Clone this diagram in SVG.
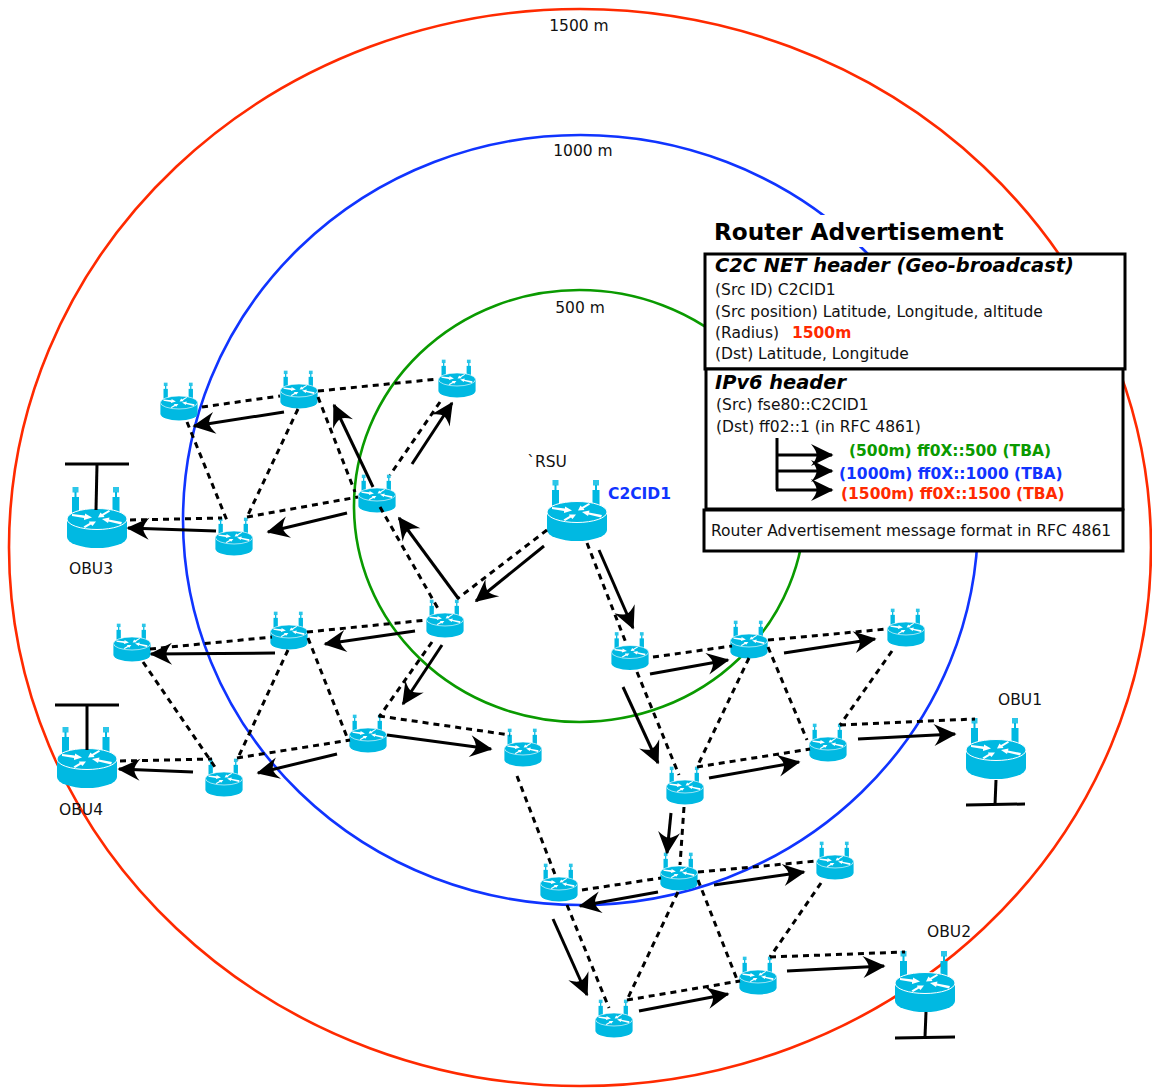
<svg xmlns="http://www.w3.org/2000/svg" xmlns:xlink="http://www.w3.org/1999/xlink" width="1152" height="1091" viewBox="0 0 1152 1091">
<style>
text{font-family:"DejaVu Sans",sans-serif;font-size:15.5px;fill:#111}
.b{font-weight:bold}
.bi{font-weight:bold;font-style:oblique}
.circle{fill:none;stroke-width:2.6}
.box{fill:#fff;stroke:#000;stroke-width:3}
.d line{stroke:#000;stroke-width:3;stroke-dasharray:6 5}
.a line{stroke:#000;stroke-width:3;marker-end:url(#ah)}
.t line{stroke:#000;stroke-width:3}
</style>
<defs>
<marker id="ah" markerUnits="userSpaceOnUse" markerWidth="28" markerHeight="28" viewBox="-4 -14 28 28" refX="19" refY="0" orient="auto" overflow="visible">
<path d="M20.500,0 L-2,-11 Q4,-3.500 3.500,0 Q4,3.500 -2,11 Z" fill="#000"/>
</marker>
<g id="router">
<rect x="-24.500" y="-32" width="6" height="5.500" fill="#2cc6e8"/>
<rect x="-22.500" y="-27" width="2" height="6" fill="#00b9e2"/>
<rect x="-25" y="-22" width="7" height="16" fill="#00b9e2"/>
<rect x="16" y="-32" width="6" height="5.500" fill="#2cc6e8"/>
<rect x="18" y="-27" width="2" height="6" fill="#00b9e2"/>
<rect x="15.500" y="-22" width="7" height="16" fill="#00b9e2"/>
<path d="M-30,0 V18 A30,11 0 0 0 30,18 V0 Z" fill="#00b9e2"/>
<ellipse cx="0" cy="0" rx="30" ry="10.500" fill="#00b9e2" stroke="#fff" stroke-width="1"/>
<path d="M-25,-5 L-12,-3.500 L-12,-5.500 L-5,-1.500 L-13,1 L-13,-1 L-25,-3 Z" fill="#fff"/>
<path d="M12,-9 L5,-5 L3.500,-6.500 L1,-1.500 L7.500,-2 L6.500,-3.500 L13,-7.500 Z" fill="#fff"/>
<path d="M25,3 L12,0.500 L12.500,-1.500 L5,0 L11,4 L11.500,2.500 L24,5.500 Z" fill="#fff"/>
<path d="M-12,9 L-6,5.500 L-4.500,7 L-1,2.500 L-8,2.500 L-7.500,4 L-13.500,7.500 Z" fill="#fff"/>
</g>
</defs>

<g id="ranges">
<ellipse class="circle" cx="580" cy="547.500" rx="571" ry="538.500" stroke="#ff2a00"/>
<ellipse class="circle" cx="580.500" cy="520" rx="397.500" ry="385" stroke="#1034ff"/>
<ellipse class="circle" cx="579.500" cy="506" rx="225.500" ry="216" stroke="#0a9a00"/>
</g>

<g id="rsu"><use xlink:href="#router" href="#router" transform="translate(577,512)"/></g>
<g id="obu3"><use href="#router" transform="translate(97,519)"/></g>
<g id="obu4"><use href="#router" transform="translate(87,759)"/></g>
<g id="obu1"><use href="#router" transform="translate(996,750)"/></g>
<g id="obu2"><use href="#router" transform="translate(925,983)"/></g>
<g id="n1"><use href="#router" transform="translate(179,402.500) scale(.62)"/></g>
<g id="n2"><use href="#router" transform="translate(299,390.500) scale(.62)"/></g>
<g id="n3"><use href="#router" transform="translate(457,379.500) scale(.62)"/></g>
<g id="n4"><use href="#router" transform="translate(377,494.500) scale(.62)"/></g>
<g id="n5"><use href="#router" transform="translate(234,537.500) scale(.62)"/></g>
<g id="n6"><use href="#router" transform="translate(445,619.500) scale(.62)"/></g>
<g id="n7"><use href="#router" transform="translate(289,631.500) scale(.62)"/></g>
<g id="n8"><use href="#router" transform="translate(132,643.500) scale(.62)"/></g>
<g id="n9"><use href="#router" transform="translate(368,734.500) scale(.62)"/></g>
<g id="n10"><use href="#router" transform="translate(224,778.500) scale(.62)"/></g>
<g id="n12"><use href="#router" transform="translate(523,748.500) scale(.62)"/></g>
<g id="n13"><use href="#router" transform="translate(630,652) scale(.62)"/></g>
<g id="n14"><use href="#router" transform="translate(749,640.500) scale(.62)"/></g>
<g id="n15"><use href="#router" transform="translate(906,628.500) scale(.62)"/></g>
<g id="n16"><use href="#router" transform="translate(828,743.500) scale(.62)"/></g>
<g id="n17"><use href="#router" transform="translate(685,786.500) scale(.62)"/></g>
<g id="n18"><use href="#router" transform="translate(679,872.500) scale(.62)"/></g>
<g id="n19"><use href="#router" transform="translate(835,861.500) scale(.62)"/></g>
<g id="n20"><use href="#router" transform="translate(559,883.500) scale(.62)"/></g>
<g id="n21"><use href="#router" transform="translate(758,976.500) scale(.62)"/></g>
<g id="n22"><use href="#router" transform="translate(614,1019.500) scale(.62)"/></g>

<g id="connectors">
<g class="t">
<line x1="65" y1="464" x2="129" y2="464"/><line x1="97" y1="464" x2="96" y2="510"/>
<line x1="55" y1="705" x2="119" y2="705"/><line x1="87" y1="705" x2="87" y2="750"/>
<line x1="996" y1="780" x2="995" y2="805"/><line x1="966" y1="805" x2="1025" y2="804"/>
<line x1="926" y1="1012" x2="925" y2="1037"/><line x1="895" y1="1038" x2="955" y2="1037"/>
</g>
<g class="d">
<line x1="202" y1="407" x2="280" y2="396"/>
<line x1="318" y1="391" x2="438" y2="379"/>
<line x1="187" y1="422" x2="228" y2="523"/>
<line x1="298" y1="409" x2="247" y2="517"/>
<line x1="318" y1="397" x2="355" y2="492"/>
<line x1="440" y1="402" x2="390" y2="475"/>
<line x1="130" y1="520" x2="222" y2="518"/>
<line x1="247" y1="517" x2="358" y2="497"/>
<line x1="380" y1="507" x2="440" y2="612"/>
<line x1="547" y1="530" x2="457" y2="599"/>
<line x1="587" y1="543" x2="626" y2="643"/>
<line x1="150" y1="649" x2="272" y2="637"/>
<line x1="307" y1="632" x2="427" y2="620"/>
<line x1="288" y1="650" x2="237" y2="760"/>
<line x1="143" y1="662" x2="217" y2="770"/>
<line x1="308" y1="638" x2="347" y2="737"/>
<line x1="432" y1="642" x2="379" y2="717"/>
<line x1="237" y1="758" x2="350" y2="740"/>
<line x1="120" y1="761" x2="212" y2="759"/>
<line x1="379" y1="716" x2="510" y2="735"/>
<line x1="517" y1="776" x2="556" y2="877"/>
<line x1="653" y1="657" x2="732" y2="646"/>
<line x1="768" y1="640" x2="887" y2="629"/>
<line x1="768" y1="647" x2="807" y2="740"/>
<line x1="892" y1="651" x2="840" y2="725"/>
<line x1="840" y1="725" x2="975" y2="719"/>
<line x1="637" y1="672" x2="679" y2="775"/>
<line x1="749" y1="658" x2="697" y2="767"/>
<line x1="697" y1="767" x2="810" y2="749"/>
<line x1="684" y1="807" x2="680" y2="865"/>
<line x1="582" y1="890" x2="661" y2="878"/>
<line x1="698" y1="872" x2="817" y2="861"/>
<line x1="678" y1="892" x2="627" y2="1000"/>
<line x1="567" y1="905" x2="609" y2="1008"/>
<line x1="698" y1="880" x2="738" y2="982"/>
<line x1="821" y1="883" x2="770" y2="957"/>
<line x1="770" y1="957" x2="905" y2="952"/>
<line x1="627" y1="1000" x2="740" y2="981"/>
</g>
<g class="a">
<line x1="284" y1="412" x2="194" y2="426"/>
<line x1="373" y1="487" x2="334" y2="405"/>
<line x1="412" y1="464" x2="452" y2="403"/>
<line x1="347" y1="513" x2="268" y2="532"/>
<line x1="216" y1="531" x2="128" y2="528"/>
<line x1="458" y1="598" x2="399" y2="518"/>
<line x1="544" y1="546" x2="476" y2="601"/>
<line x1="599" y1="550" x2="633" y2="628"/>
<line x1="415" y1="631" x2="325" y2="644"/>
<line x1="275" y1="653" x2="151" y2="654"/>
<line x1="442" y1="645" x2="403" y2="704"/>
<line x1="337" y1="754" x2="258" y2="773"/>
<line x1="193" y1="772" x2="119" y2="769"/>
<line x1="387" y1="735" x2="491" y2="749"/>
<line x1="650" y1="674" x2="728" y2="660"/>
<line x1="784" y1="653" x2="875" y2="639"/>
<line x1="623" y1="687" x2="658" y2="763"/>
<line x1="709" y1="778" x2="799" y2="762"/>
<line x1="858" y1="739" x2="955" y2="734"/>
<line x1="671" y1="813" x2="667" y2="853"/>
<line x1="714" y1="885" x2="804" y2="872"/>
<line x1="658" y1="892" x2="580" y2="906"/>
<line x1="553" y1="919" x2="587" y2="995"/>
<line x1="639" y1="1011" x2="728" y2="994"/>
<line x1="787" y1="971" x2="884" y2="966"/>
</g>
</g>

<g id="labels">
<text x="579" y="30.500" text-anchor="middle">1500 m</text>
<text x="583" y="156" text-anchor="middle">1000 m</text>
<text x="580" y="313" text-anchor="middle">500 m</text>
<text x="547" y="467" text-anchor="middle">`RSU</text>
<text x="608" y="498.500" class="b" style="fill:#1034ff">C2CID1</text>
<text x="91" y="574" text-anchor="middle">OBU3</text>
<text x="81" y="815" text-anchor="middle">OBU4</text>
<text x="1020" y="705" text-anchor="middle">OBU1</text>
<text x="949" y="937" text-anchor="middle">OBU2</text>
</g>

<g id="packet">
<rect x="705" y="215" width="300" height="32" fill="#fff"/>
<text x="714" y="239.500" class="b" style="font-size:23.2px;fill:#000">Router Advertisement</text>
<rect class="box" x="705" y="254" width="420" height="115"/>
<rect class="box" x="706" y="369" width="417" height="140"/>
<rect class="box" x="704" y="510" width="419" height="41"/>
<text x="715" y="271.500" class="bi" style="font-size:19.4px;fill:#000">C2C NET header (Geo-broadcast)</text>
<text x="715" y="295">(Src ID) C2CID1</text>
<text x="715" y="316.500">(Src position) Latitude, Longitude, altitude</text>
<text x="715" y="337.500">(Radius)</text>
<text x="792" y="337.500" class="b" style="fill:#ff2a00">1500m</text>
<text x="715" y="359">(Dst) Latitude, Longitude</text>
<text x="715" y="389" class="bi" style="font-size:19.4px;fill:#000">IPv6 header</text>
<text x="716" y="410">(Src) fse80::C2CID1</text>
<text x="716" y="431.500">(Dst) ff02::1 (in RFC 4861)</text>
<g class="t"><line x1="777" y1="438" x2="777" y2="490"/></g>
<g class="a">
<line x1="776" y1="455" x2="832" y2="455"/>
<line x1="776" y1="471" x2="832" y2="471"/>
<line x1="776" y1="490" x2="832" y2="490"/>
</g>
<text x="849" y="456" class="b" style="fill:#0a9a00">(500m) ff0X::500 (TBA)</text>
<text x="839" y="479" class="b" style="fill:#1034ff">(1000m) ff0X::1000 (TBA)</text>
<text x="841" y="499" class="b" style="fill:#ff2a00">(1500m) ff0X::1500 (TBA)</text>
<text x="711" y="536">Router Advertisement message format in RFC 4861</text>
</g>
</svg>
